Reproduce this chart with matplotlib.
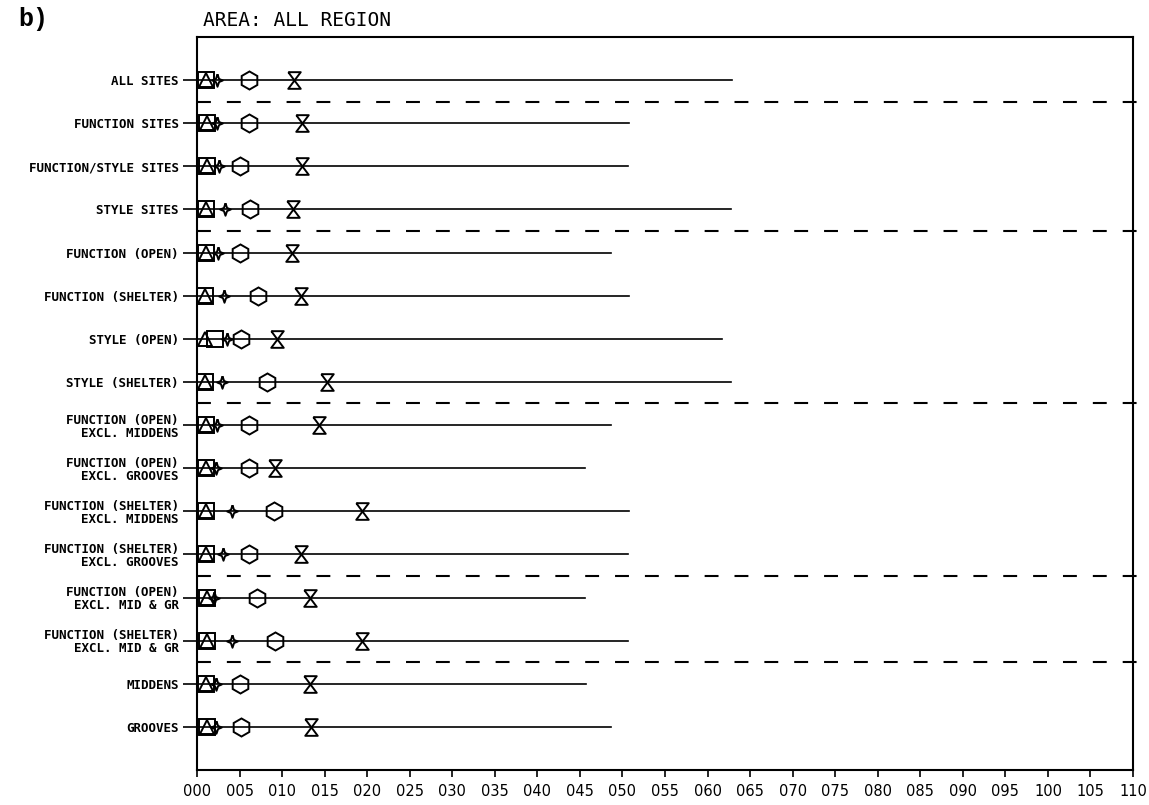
import matplotlib.pyplot as plt
from matplotlib.path import Path

labels = ["ALL SITES", "FUNCTION SITES", "FUNCTION/STYLE SITES", "STYLE SITES",
          "FUNCTION (OPEN)", "FUNCTION (SHELTER)", "STYLE (OPEN)", "STYLE (SHELTER)",
          "FUNCTION (OPEN)\nEXCL. MIDDENS", "FUNCTION (OPEN)\nEXCL. GROOVES",
          "FUNCTION (SHELTER)\nEXCL. MIDDENS", "FUNCTION (SHELTER)\nEXCL. GROOVES",
          "FUNCTION (OPEN)\nEXCL. MID & GR", "FUNCTION (SHELTER)\nEXCL. MID & GR",
          "MIDDENS", "GROOVES"]
line_end = [62.9, 50.8, 50.6, 62.8, 48.6, 50.8, 61.7, 62.8,
            48.6, 45.6, 50.8, 50.7, 45.6, 50.7, 45.7, 48.7]
square_x = [1.1, 1.2, 1.2, 1.1, 1.0, 0.9, 2.1, 0.9, 1.0, 1.1, 1.1, 1.1, 1.2, 1.2, 1.1, 1.2]
triangle_x = [1.1, 1.2, 1.2, 1.1, 1.0, 0.9, 0.9, 0.9, 1.0, 1.1, 1.1, 1.1, 1.2, 1.2, 1.1, 1.2]
star_x = [2.3, 2.3, 2.6, 3.3, 2.5, 3.2, 3.5, 2.9, 2.4, 2.2, 4.1, 3.1, 2.0, 4.1, 2.2, 2.2]
hex_x = [6.1, 6.1, 5.0, 6.2, 5.1, 7.2, 5.2, 8.2, 6.1, 6.1, 9.1, 6.1, 7.1, 9.2, 5.1, 5.2]
hour_x = [11.4, 12.3, 12.3, 11.3, 11.1, 12.2, 9.4, 15.3, 14.3, 9.2, 19.4, 12.2, 13.3, 19.4, 13.3, 13.4]
group_breaks = [1, 4, 8, 12, 14]   # dashed line after these rows

plt.rcParams['lines.scale_dashes'] = False

# plotter style markers
hourglass = Path([(-0.75, 1), (0.75, 1), (-0.75, -1), (0.75, -1), (-0.75, 1)])
star4 = Path([(0, 1), (0.25, 0.25), (0.85, 0), (0.25, -0.25), (0, -1),
              (-0.25, -0.25), (-0.85, 0), (-0.25, 0.25), (0, 1)])

fig = plt.figure(figsize=(11.49, 8.05), dpi=100)
ax = fig.add_axes([0.1715, 0.0435, 0.8146, 0.9106])

rows = list(range(1, len(labels) + 1))
for y, end in zip(rows, line_end):
    ax.plot([0, end], [y, y], color='black', lw=1.2, zorder=2)

mk = dict(linestyle='none', color='black', mfc='none', mew=1.4, zorder=3)
ax.plot(square_x, rows, marker='s', ms=11, **mk)
ax.plot(triangle_x, rows, marker='^', ms=10, **mk)
ax.plot(star_x, rows, marker=star4, ms=9, **mk)
ax.plot(hex_x, rows, marker='h', ms=13, **mk)
ax.plot(hour_x, rows, marker=hourglass, ms=12, **mk)

for b in group_breaks:
    ax.plot([0, 111], [b + 0.5, b + 0.5], color='black', lw=1.5,
            dashes=(10, 11.5), clip_on=False, zorder=2)

ax.set_xlim(0, 110)
ax.set_ylim(17, 0)
xt = list(range(0, 111, 5))
ax.set_xticks(xt)
ax.set_xticklabels([f"{v:03d}" for v in xt], fontsize=10.5)
ax.set_yticks(rows)
ax.set_yticklabels(labels, family='DejaVu Sans Mono', fontweight='bold',
                   fontsize=9, multialignment='right', linespacing=1.0)
ax.tick_params(axis='y', direction='out', length=10, width=1.2, pad=3)
ax.tick_params(axis='x', direction='out', length=5, width=1.2, pad=5)
for s in ax.spines.values():
    s.set_linewidth(1.5)

fig.text(203 / 1149, 1 - 20 / 805, "AREA: ALL REGION", family='DejaVu Sans Mono',
         fontsize=14, va='center', ha='left')
fig.text(18 / 1149, 1 - 19 / 805, "b)", family='Liberation Mono', fontweight='bold',
         fontsize=18, va='center', ha='left')

fig.savefig("out.png", dpi=100)
